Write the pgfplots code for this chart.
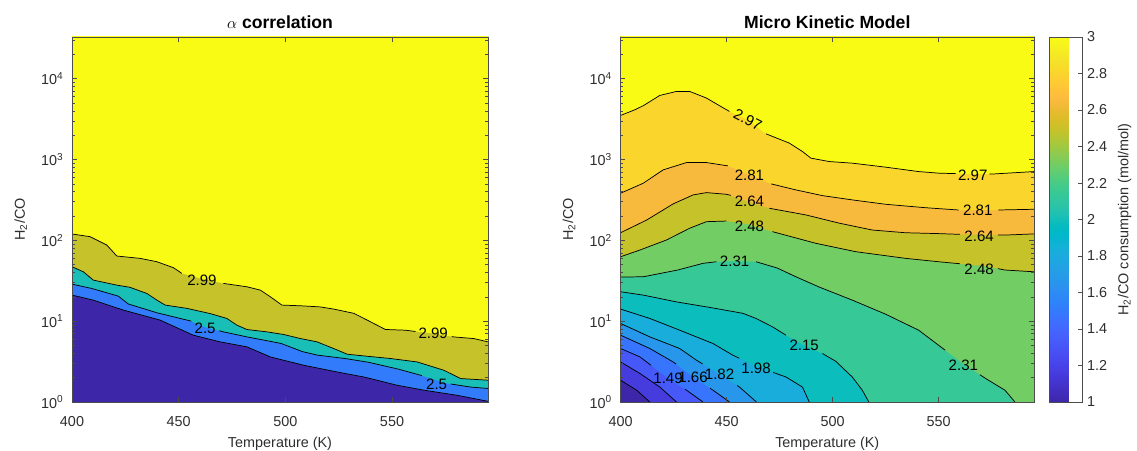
\documentclass[border=0pt]{standalone}
\usepackage{pgfplots}
\pgfplotsset{compat=1.18}
\usepackage{fontspec}
\setmainfont{Liberation Sans}

\definecolor{p01}{rgb}{0.2422,0.1504,0.6603}
\definecolor{p06}{rgb}{0.2751,0.2342,0.8710}
\definecolor{p11}{rgb}{0.2795,0.3447,0.9717}
\definecolor{p16}{rgb}{0.2206,0.4603,0.9973}
\definecolor{p17}{rgb}{0.1963,0.4847,0.9892}
\definecolor{p22}{rgb}{0.1540,0.5902,0.9218}
\definecolor{p27}{rgb}{0.0952,0.6798,0.8598}
\definecolor{p32}{rgb}{0.0433,0.7411,0.7394}
\definecolor{p33}{rgb}{0.0964,0.7500,0.7120}
\definecolor{p37}{rgb}{0.2161,0.7843,0.5923}
\definecolor{p42}{rgb}{0.4456,0.8024,0.3909}
\definecolor{p48}{rgb}{0.7738,0.7598,0.1646}
\definecolor{p53}{rgb}{0.9728,0.7298,0.2394}
\definecolor{p58}{rgb}{0.9786,0.8386,0.1766}
\definecolor{p64}{rgb}{0.9769,0.9839,0.0805}
\definecolor{axgray}{rgb}{0.30,0.30,0.30}
\definecolor{txtgray}{rgb}{0.18,0.18,0.18}

\pgfplotsset{colormap={parula}{
rgb=(0.2422,0.1504,0.6603) rgb=(0.2504,0.1650,0.7076) rgb=(0.2578,0.1818,0.7511) rgb=(0.2647,0.1978,0.7952)
rgb=(0.2706,0.2147,0.8364) rgb=(0.2751,0.2342,0.8710) rgb=(0.2783,0.2559,0.8991) rgb=(0.2803,0.2782,0.9221)
rgb=(0.2813,0.3006,0.9414) rgb=(0.2810,0.3228,0.9579) rgb=(0.2795,0.3447,0.9717) rgb=(0.2760,0.3667,0.9829)
rgb=(0.2699,0.3892,0.9906) rgb=(0.2602,0.4123,0.9952) rgb=(0.2440,0.4358,0.9988) rgb=(0.2206,0.4603,0.9973)
rgb=(0.1963,0.4847,0.9892) rgb=(0.1834,0.5074,0.9798) rgb=(0.1786,0.5289,0.9682) rgb=(0.1764,0.5499,0.9520)
rgb=(0.1687,0.5703,0.9359) rgb=(0.1540,0.5902,0.9218) rgb=(0.1460,0.6091,0.9079) rgb=(0.1380,0.6276,0.8973)
rgb=(0.1248,0.6459,0.8883) rgb=(0.1113,0.6635,0.8763) rgb=(0.0952,0.6798,0.8598) rgb=(0.0689,0.6948,0.8394)
rgb=(0.0297,0.7082,0.8163) rgb=(0.0036,0.7203,0.7917) rgb=(0.0067,0.7312,0.7660) rgb=(0.0433,0.7411,0.7394)
rgb=(0.0964,0.7500,0.7120) rgb=(0.1408,0.7584,0.6842) rgb=(0.1717,0.7670,0.6554) rgb=(0.1938,0.7758,0.6251)
rgb=(0.2161,0.7843,0.5923) rgb=(0.2470,0.7918,0.5567) rgb=(0.2906,0.7973,0.5188) rgb=(0.3406,0.8008,0.4789)
rgb=(0.3909,0.8029,0.4354) rgb=(0.4456,0.8024,0.3909) rgb=(0.5044,0.7993,0.3480) rgb=(0.5616,0.7942,0.3045)
rgb=(0.6174,0.7876,0.2612) rgb=(0.6720,0.7793,0.2227) rgb=(0.7242,0.7698,0.1910) rgb=(0.7738,0.7598,0.1646)
rgb=(0.8203,0.7498,0.1535) rgb=(0.8634,0.7406,0.1596) rgb=(0.9035,0.7330,0.1774) rgb=(0.9393,0.7288,0.2100)
rgb=(0.9728,0.7298,0.2394) rgb=(0.9956,0.7434,0.2371) rgb=(0.9970,0.7659,0.2199) rgb=(0.9952,0.7893,0.2028)
rgb=(0.9892,0.8136,0.1885) rgb=(0.9786,0.8386,0.1766) rgb=(0.9676,0.8639,0.1643) rgb=(0.9610,0.8890,0.1537)
rgb=(0.9597,0.9135,0.1423) rgb=(0.9628,0.9373,0.1265) rgb=(0.9691,0.9606,0.1064) rgb=(0.9769,0.9839,0.0805)}}

\tikzset{
  cl/.style={draw=black, line width=0.55pt},
  lab/.style={font=\fontsize{11.3}{12}\selectfont, inner sep=0pt, text=black},
}

\begin{document}
\begin{tikzpicture}
\path[use as bounding box] (0,0) rectangle (852.75pt,337.5pt);

% ---------------- left: alpha correlation ----------------
\begin{axis}[
    at={(54pt,36pt)}, anchor=south west,
    scale only axis, width=312pt, height=273.75pt,
    xmin=400, xmax=595, ymode=log, ymin=1, ymax=32700,
    axis on top,
    xtick={400,450,500,550}, xticklabels={400,450,500,550},
    ytick={1,10,100,1000,10000},
    yticklabels={10\textsuperscript{0},10\textsuperscript{1},10\textsuperscript{2},10\textsuperscript{3},10\textsuperscript{4}},
    minor ytick={2,3,4,5,6,7,8,9,20,30,40,50,60,70,80,90,200,300,400,500,600,700,800,900,2000,3000,4000,5000,6000,7000,8000,9000,20000,30000},
    tick align=inside, major tick length=3.5pt, minor tick length=2pt,
    axis line style={axgray, line width=0.5pt},
    every tick/.style={axgray, line width=0.4pt},
    tick label style={font=\fontsize{10.8}{12}\selectfont, text=txtgray},
    xticklabel style={anchor=base, yshift=-18pt},
    yticklabel style={anchor=east, xshift=-3pt},
    xlabel={Temperature (K)}, ylabel={H\textsubscript{2}/CO},
    label style={font=\fontsize{10.8}{12}\selectfont, text=txtgray},
    xlabel style={at={(axis description cs:0.5,-0.1247)}, anchor=base},
    ylabel style={at={(axis description cs:-0.113,0.5)}, anchor=base},
    every axis title/.style={font=\fontsize{13.2}{15}\selectfont\bfseries, at={(axis description cs:0.5,1.0233)}, anchor=base},
    title={$\alpha$ correlation}]
\addplot[fill=p01, draw=none] coordinates {(400,1) (595,1) (595,1e5) (400,1e5)};
\addplot[fill=p17, draw=none] coordinates {(400,21) (410,18.2) (424.1,13.7) (441.3,10.3) (456.9,6.7) (469.5,5.54) (482,4.81) (493,3.61) (508.6,2.85) (524.3,2.35) (536.8,2.04) (552.5,1.61) (565,1.4) (580.6,1.21) (595,1.02) (595,1e5) (400,1e5)};
\addplot[fill=p33, draw=none] coordinates {(400,28.7) (409.2,25.4) (421.7,20.4) (426.4,16.3) (439.8,12.7) (455.4,10.1) (462.4,8.43) (471,7.37) (482,6.39) (498,5.3) (508,4.2) (515,3.8) (528,3.45) (539,3.1) (553,2.55) (564,2.12) (575.9,1.69) (586.9,1.53) (595,1.47) (595,1e5) (400,1e5)};
\addplot[fill=p48, draw=none] coordinates {(400,47.1) (405.3,40.8) (410,32.2) (421,27.9) (427.2,26.2) (435.1,22) (439.8,18.2) (443.7,15.8) (453.8,14.4) (464.8,12.4) (472.6,10.8) (477.3,8.92) (482,7.88) (491.4,7.37) (499.2,6.84) (507,6.1) (514.9,5.54) (522.7,4.58) (529,3.9) (538.4,3.68) (549.3,3.45) (561.8,3.13) (574.3,2.47) (582.2,1.95) (595,1.86) (595,1e5) (400,1e5)};
\addplot[fill=p64, draw=none] coordinates {(400,119.7) (408.5,110.9) (416.3,87.5) (421,63.9) (431.9,59.8) (439.8,54.3) (447.6,45.8) (451.5,39) (460.1,33.8) (471,29.3) (482,26.6) (488.3,24.2) (493,20) (498.4,15.8) (507,15.5) (516.4,15) (522.7,14.1) (532.1,12.5) (538.4,10.3) (546.9,7.89) (556.3,7.73) (569.6,7.03) (579,6.38) (588.4,6.09) (595,5.54) (595,1e5) (400,1e5)};
\addplot[cl] coordinates {(400,21) (410,18.2) (424.1,13.7) (441.3,10.3) (456.9,6.7) (469.5,5.54) (482,4.81) (493,3.61) (508.6,2.85) (524.3,2.35) (536.8,2.04) (552.5,1.61) (565,1.4) (580.6,1.21) (595,1.02)};
\addplot[cl] coordinates {(400,28.7) (409.2,25.4) (421.7,20.4) (426.4,16.3) (439.8,12.7) (455.9,10.0)};
\addplot[cl] coordinates {(469,7.6) (471,7.37) (482,6.39) (498,5.3) (508,4.2) (515,3.8) (528,3.45) (539,3.1) (553,2.55) (564,2.12)};
\addplot[cl] coordinates {(577.5,1.67) (586.9,1.53) (595,1.47)};
\addplot[cl] coordinates {(400,47.1) (405.3,40.8) (410,32.2) (421,27.9) (427.2,26.2) (435.1,22) (439.8,18.2) (443.7,15.8) (453.8,14.4) (464.8,12.4) (472.6,10.8) (477.3,8.92) (482,7.88) (491.4,7.37) (499.2,6.84) (507,6.1) (514.9,5.54) (522.7,4.58) (529,3.9) (538.4,3.68) (549.3,3.45) (561.8,3.13) (574.3,2.47) (582.2,1.95) (595,1.86)};
\addplot[cl] coordinates {(400,119.7) (408.5,110.9) (416.3,87.5) (421,63.9) (431.9,59.8) (439.8,54.3) (447.6,45.8) (451.5,39)};
\addplot[cl] coordinates {(471,29.3) (482,26.6) (488.3,24.2) (493,20) (498.4,15.8) (507,15.5) (516.4,15) (522.7,14.1) (532.1,12.5) (538.4,10.3) (546.9,7.89) (556.3,7.73) (561,7.45)};
\addplot[cl] coordinates {(578,6.45) (579,6.38) (588.4,6.09) (595,5.54)};
\node[lab] at (axis cs:460.9,32.2) {2.99};
\node[lab] at (axis cs:569.3,7.03) {2.99};
\node[lab] at (axis cs:462.4,8.26) {2.5};
\node[lab] at (axis cs:570.9,1.66) {2.5};
\end{axis}

% ---------------- right: micro kinetic model ----------------
\begin{axis}[
    at={(465.4pt,36pt)}, anchor=south west,
    scale only axis, width=310.1pt, height=273.75pt,
    xmin=400, xmax=595, ymode=log, ymin=1, ymax=32700,
    axis on top,
    xtick={400,450,500,550}, xticklabels={400,450,500,550},
    ytick={1,10,100,1000,10000},
    yticklabels={10\textsuperscript{0},10\textsuperscript{1},10\textsuperscript{2},10\textsuperscript{3},10\textsuperscript{4}},
    minor ytick={2,3,4,5,6,7,8,9,20,30,40,50,60,70,80,90,200,300,400,500,600,700,800,900,2000,3000,4000,5000,6000,7000,8000,9000,20000,30000},
    tick align=inside, major tick length=3.5pt, minor tick length=2pt,
    axis line style={axgray, line width=0.5pt},
    every tick/.style={axgray, line width=0.4pt},
    tick label style={font=\fontsize{10.8}{12}\selectfont, text=txtgray},
    xticklabel style={anchor=base, yshift=-18pt},
    yticklabel style={anchor=east, xshift=-3pt},
    xlabel={Temperature (K)}, ylabel={H\textsubscript{2}/CO},
    label style={font=\fontsize{10.8}{12}\selectfont, text=txtgray},
    xlabel style={at={(axis description cs:0.5,-0.1247)}, anchor=base},
    ylabel style={at={(axis description cs:-0.1148,0.5)}, anchor=base},
    every axis title/.style={font=\fontsize{13.2}{15}\selectfont\bfseries, at={(axis description cs:0.5,1.0233)}, anchor=base},
    title={Micro Kinetic Model},
    colormap name=parula, point meta min=1, point meta max=3,
    colorbar,
    colorbar style={at={(parent axis.north east)}, anchor=north west, xshift=3pt,
      scale only axis, width=24.75pt, height=273.75pt,
      ytick={1,1.2,1.4,1.6,1.8,2,2.2,2.4,2.6,2.8,3},
      yticklabels={1,1.2,1.4,1.6,1.8,2,2.2,2.4,2.6,2.8,3},
      ytick pos=right, yticklabel pos=right, tick align=inside, major tick length=3pt,
      axis line style={axgray, line width=0.5pt}, every tick/.style={axgray, line width=0.4pt},
      tick label style={font=\fontsize{10.8}{12}\selectfont, text=txtgray},
      yticklabel style={anchor=west, xshift=0pt},
      ylabel={H\textsubscript{2}/CO consumption (mol/mol)},
      ylabel style={font=\fontsize{10.8}{12}\selectfont, text=txtgray, at={(axis description cs:2.394,0.5)}, anchor=base}}]
\addplot[fill=p01, draw=none] coordinates {(400,1) (595,1) (595,1e5) (400,1e5)};
\addplot[fill=p06, draw=none] coordinates {(400,1.86) (407.6,1.40) (413.8,1.0) (595,1) (595,1e5) (400,1e5)};
\addplot[fill=p11, draw=none] coordinates {(400,3.13) (409.2,2.25) (418.5,1.53) (426.4,1.0) (595,1) (595,1e5) (400,1e5)};
\addplot[fill=p16, draw=none] coordinates {(400,4.59) (409.2,3.61) (415.4,2.72) (422.4,1.95) (431.1,1.40) (438.9,1.0) (595,1) (595,1e5) (400,1e5)};
\addplot[fill=p22, draw=none] coordinates {(400,6.71) (413.8,4.59) (424.8,3.13) (434.2,2.04) (443.6,1.40) (451.4,1.0) (595,1) (595,1e5) (400,1e5)};
\addplot[fill=p27, draw=none] coordinates {(400,9.37) (413.8,6.39) (427.9,4.59) (435.8,3.29) (446.7,2.20) (456.1,1.53) (464.1,1.0) (595,1) (595,1e5) (400,1e5)};
\addplot[fill=p32, draw=none] coordinates {(400,14.1) (413.8,10.8) (427.9,7.73) (443.6,5.29) (453,3.79) (463.9,2.77) (478,2.04) (485.8,1.53) (489,1.0) (595,1) (595,1e5) (400,1e5)};
\addplot[fill=p37, draw=none] coordinates {(400,23.1) (410.7,21) (426.4,17.3) (442,14.8) (457.7,12.5) (463.9,10.8) (471.7,8.5) (478,6.71) (486.6,5.04) (495.2,3.98) (501.5,3.19) (509.3,2.04) (514,1.40) (517.1,1.0) (595,1) (595,1e5) (400,1e5)};
\addplot[fill=p42, draw=none] coordinates {(400,35.1) (410.7,35.4) (427,42.9) (438.9,51.9) (445.2,54.3) (453.8,55.4) (463.9,54.3) (473.9,45.4) (482.7,35.4) (493.7,26.4) (509.3,18.2) (525,12.2) (540.6,7.73) (553.1,4.37) (562.5,2.85) (573.5,1.86) (581.3,1.40) (586,1.0) (595,1) (595,1e5) (400,1e5)};
\addplot[fill=p48, draw=none] coordinates {(400,62.6) (409.2,75.9) (421.7,101) (432.6,141) (440.5,170) (449.9,173) (459.9,159) (471.6,128) (492.1,91.8) (510.9,72.3) (534.4,59.8) (550,54.3) (572.1,48) (581.3,42.9) (595,40.8) (595,1e5) (400,1e5)};
\addplot[fill=p53, draw=none] coordinates {(400,124) (412.3,178) (424.8,282) (434.2,364) (440.5,389) (449.9,371) (459.9,301) (470.2,249) (487.4,206) (503.1,163) (518.7,134) (534.4,124) (550,121) (569,117) (581.3,116) (595,120) (595,1e5) (400,1e5)};
\addplot[fill=p58, draw=none] coordinates {(400,382) (410.7,508) (420.1,743) (431.1,915) (440.5,915) (450.6,833) (460.8,645) (471,499) (482.7,420) (495.2,357) (509.3,316) (525,279) (543.8,253) (559.4,237) (568.5,237) (578.2,237) (595,242) (595,1e5) (400,1e5)};
\addplot[fill=p64, draw=none] coordinates {(400,3499) (406.8,4120) (410.7,4617) (418.5,6190) (426.4,6938) (432.6,6938) (440.5,5750) (446.7,4617) (451.4,3925) (460,3097) (468.6,2075) (479.6,1592) (485.8,1253) (489.8,1038) (498.4,942) (509.3,900) (525,803) (540.6,708) (550,677) (566.1,660) (576.6,663) (595,708) (595,1e5) (400,1e5)};
\addplot[cl] coordinates {(400,1.86) (407.6,1.40) (413.8,1.0)};
\addplot[cl] coordinates {(400,3.13) (409.2,2.25) (418.5,1.53) (426.4,1.0)};
\addplot[cl] coordinates {(400,4.59) (409.2,3.61) (414.4,2.84)};
\addplot[cl] coordinates {(430.4,1.44) (431.1,1.40) (438.9,1.0)};
\addplot[cl] coordinates {(400,6.71) (413.8,4.59) (424.8,3.13) (426.2,2.94)};
\addplot[cl] coordinates {(442.2,1.48) (443.6,1.40) (451.4,1.0)};
\addplot[cl] coordinates {(400,9.37) (413.8,6.39) (427.9,4.59) (435.8,3.29) (438.7,2.96)};
\addplot[cl] coordinates {(455,1.6) (456.1,1.53) (464.1,1.0)};
\addplot[cl] coordinates {(400,14.1) (413.8,10.8) (427.9,7.73) (443.6,5.29) (453,3.79) (456,3.48)};
\addplot[cl] coordinates {(472,2.32) (478,2.04) (485.8,1.53) (489,1.0)};
\addplot[cl] coordinates {(400,23.1) (410.7,21) (426.4,17.3) (442,14.8) (457.7,12.5) (463.9,10.8) (471.7,8.5) (478,6.71)};
\addplot[cl] coordinates {(495.2,3.98) (501.5,3.19) (509.3,2.04) (514,1.40) (517.1,1.0)};
\addplot[cl] coordinates {(400,35.1) (410.7,35.4) (427,42.9) (438.9,51.9) (445.2,54.3)};
\addplot[cl] coordinates {(463.9,54.3) (473.9,45.4) (482.7,35.4) (493.7,26.4) (509.3,18.2) (525,12.2) (540.6,7.73) (553.1,4.37)};
\addplot[cl] coordinates {(569.5,2.17) (573.5,1.86) (581.3,1.40) (586,1.0)};
\addplot[cl] coordinates {(400,62.6) (409.2,75.9) (421.7,101) (432.6,141) (440.5,170) (449.9,173)};
\addplot[cl] coordinates {(471.6,128) (492.1,91.8) (510.9,72.3) (534.4,59.8) (550,54.3) (560,51.3)};
\addplot[cl] coordinates {(578,44.6) (581.3,42.9) (595,40.8)};
\addplot[cl] coordinates {(400,124) (412.3,178) (424.8,282) (434.2,364) (440.5,389) (449.9,371) (452,360)};
\addplot[cl] coordinates {(470.2,249) (487.4,206) (503.1,163) (518.7,134) (534.4,124) (550,121) (560,118.5)};
\addplot[cl] coordinates {(578,116.4) (581.3,116) (595,120)};
\addplot[cl] coordinates {(400,382) (410.7,508) (420.1,743) (431.1,915) (440.5,915) (450.6,833)};
\addplot[cl] coordinates {(471,499) (482.7,420) (495.2,357) (509.3,316) (525,279) (543.8,253) (559.4,237)};
\addplot[cl] coordinates {(578.2,237) (595,242)};
\addplot[cl] coordinates {(400,3499) (406.8,4120) (410.7,4617) (418.5,6190) (426.4,6938) (432.6,6938) (440.5,5750) (446.7,4617) (451.4,3925)};
\addplot[cl] coordinates {(468.6,2075) (479.6,1592) (485.8,1253) (489.8,1038) (498.4,942) (509.3,900) (525,803) (540.6,708) (550,677) (558,668)};
\addplot[cl] coordinates {(574,662) (576.6,663) (595,708)};
\node[lab, rotate=-27] at (axis cs:460,3097) {2.97};
\node[lab] at (axis cs:566.1,631) {2.97};
\node[lab] at (axis cs:460.8,645) {2.81};
\node[lab] at (axis cs:568.5,237) {2.81};
\node[lab] at (axis cs:460.8,301) {2.64};
\node[lab] at (axis cs:569.1,113) {2.64};
\node[lab] at (axis cs:460.8,150) {2.48};
\node[lab] at (axis cs:569.1,43.7) {2.48};
\node[lab] at (axis cs:453.8,54.3) {2.31};
\node[lab] at (axis cs:561.7,2.85) {2.31};
\node[lab] at (axis cs:486.6,5.04) {2.15};
\node[lab] at (axis cs:463.9,2.59) {1.98};
\node[lab] at (axis cs:446.7,2.20) {1.82};
\node[lab] at (axis cs:434.2,2.04) {1.66};
\node[lab] at (axis cs:422.4,1.95) {1.49};
\end{axis}
\end{tikzpicture}
\end{document}
